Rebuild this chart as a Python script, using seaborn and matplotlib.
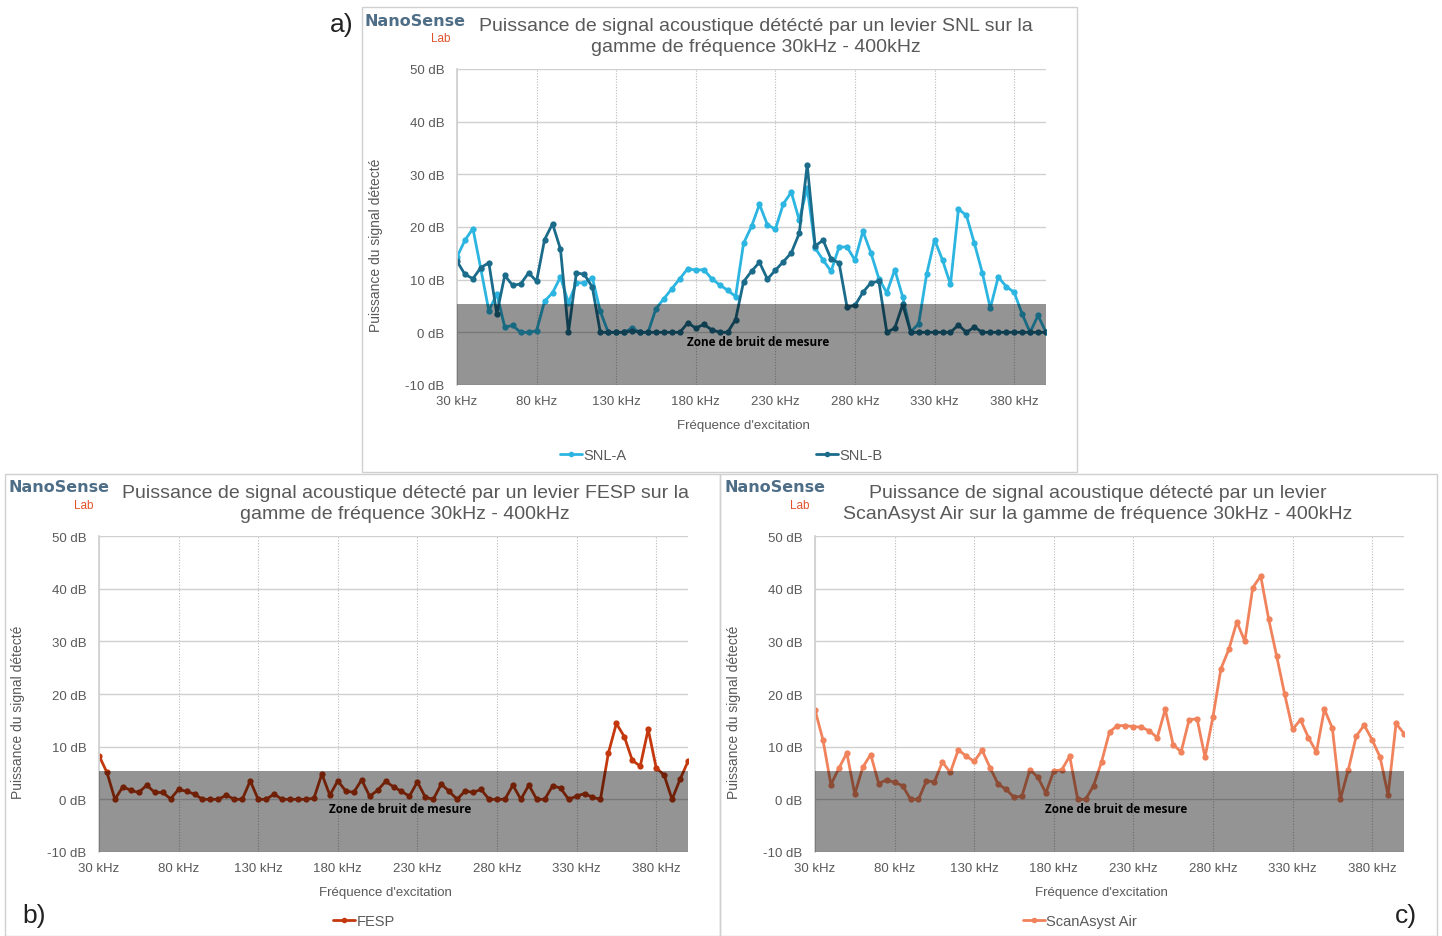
import matplotlib
matplotlib.use("Agg")
import numpy as np
import pandas as pd
import matplotlib.pyplot as plt
import seaborn as sns
from matplotlib.patches import Rectangle
from matplotlib.lines import Line2D

# categories: excitation frequency, kHz (step 5 kHz)
freq = list(range(30, 405, 5))

snl_a = [14.3, 17.5, 19.7, 12.0, 4.1, 7.3, 1.0, 1.3, 0, 0,
         0.3, 5.9, 7.5, 10.5, 5.6, 9.4, 9.4, 10.4, 4.0, 0,
         0, 0, 0.8, 0, 0, 4.5, 6.4, 8.3, 10.2, 12.1,
         11.8, 11.9, 10.2, 9.0, 8.0, 6.8, 16.9, 20.1, 24.3, 20.4,
         19.6, 24.4, 26.6, 21.3, 27.5, 16.0, 13.7, 11.6, 16.2, 16.2,
         13.7, 19.2, 15.1, 10.2, 7.5, 11.9, 6.7, 0.1, 1.6, 11.0,
         17.6, 13.7, 9.1, 23.4, 22.2, 16.9, 11.3, 4.6, 10.5, 8.7,
         7.6, 3.5, 0, 3.2, 0]

snl_b = [13.5, 11.0, 10.2, 12.3, 13.2, 3.5, 10.8, 8.9, 9.2, 11.3,
         9.7, 17.6, 20.6, 15.8, 0, 11.3, 11.0, 8.6, 0, 0,
         0, 0, 0.3, 0, 0, 0, 0, 0, 0, 1.8,
         0.8, 1.5, 0.5, 0, 0, 2.4, 9.6, 11.6, 13.3, 10.1,
         11.8, 13.4, 15.1, 18.8, 31.8, 16.4, 17.5, 13.9, 13.2, 4.8,
         5.1, 7.6, 9.4, 9.7, 0, 0.8, 5.3, 0, 0, 0,
         0, 0, 0, 1.4, 0, 1.0, 0, 0, 0, 0,
         0, 0, 0, 0, 0]

fesp = [8.3, 5.1, 0, 2.4, 1.7, 1.3, 2.7, 1.3, 1.3, 0.1,
        1.9, 1.5, 1.0, 0, 0, 0, 0.8, 0, 0, 3.5,
        0, 0, 1.0, 0, 0, 0, 0, 0.2, 4.8, 0.8,
        3.5, 1.6, 1.3, 3.7, 0.6, 1.7, 3.4, 2.4, 1.5, 0.6,
        3.3, 0.4, 0, 2.9, 1.5, 0, 1.6, 1.3, 1.9, 0,
        0, 0, 2.7, 0, 2.7, 0, 0, 2.6, 2.1, 0,
        0.6, 1.1, 0.4, 0, 8.8, 14.4, 11.9, 7.4, 6.3, 13.3,
        6.0, 4.6, 0, 3.8, 7.2]

scanasyst = [17.0, 11.3, 2.8, 5.9, 8.8, 1.0, 6.1, 8.5, 3.0, 3.7,
             3.2, 2.6, 0, 0, 3.5, 3.3, 7.1, 5.1, 9.4, 8.2,
             7.2, 9.3, 6.0, 2.9, 1.9, 0.4, 0.6, 5.6, 4.2, 1.2,
             5.4, 5.6, 8.2, 0, 0, 2.6, 7.1, 12.8, 14.0, 14.0,
             13.8, 13.7, 13.0, 11.7, 17.1, 10.4, 9.0, 15.1, 15.3, 8.0,
             15.7, 24.8, 28.5, 33.7, 30.0, 40.2, 42.4, 34.2, 27.2, 20.0,
             13.3, 15.1, 11.7, 9.0, 17.1, 13.5, 0, 5.6, 12.0, 14.1,
             11.3, 8.0, 0.8, 14.4, 12.5]

noise_top = 5.3
y_ticks = [-10, 0, 10, 20, 30, 40, 50]
x_ticks = freq[::10]

sns.set_theme(style="white")
plt.rcParams["font.family"] = ["Liberation Sans", "DejaVu Sans"]

GREY_TXT = "#595959"
GRID = "#D0D0D0"

fig = plt.figure(figsize=(14.42, 9.37), dpi=100)


def panel(rect, series, palette, title, title_xy, box, logo_xy, legend_xy, colsp):
    ax = fig.add_axes(rect)
    df = pd.DataFrame({"freq": freq * len(series),
                       "db": sum([v for v in series.values()], []),
                       "serie": sum([[k] * len(freq) for k in series], [])})
    sns.lineplot(data=df, x="freq", y="db", hue="serie", palette=palette,
                 marker="o", markersize=4.5, markeredgewidth=0, linewidth=2,
                 ax=ax, legend=False, zorder=2)
    ax.axhspan(-10, noise_top, color="black", alpha=0.42, lw=0, zorder=3)
    ax.text(0.512, -1.7, "Zone de bruit de mesure", transform=ax.get_yaxis_transform(),
            ha="center", va="center", fontsize=8.5, fontweight="bold",
            family=["Open Sans", "DejaVu Sans"], color="black", zorder=4)
    ax.set_xlim(30, 400)
    ax.set_ylim(-10, 50)
    ax.set_xticks(x_ticks)
    ax.set_xticklabels([f"{f} kHz" for f in x_ticks])
    ax.set_yticks(y_ticks)
    ax.set_yticklabels([f"{v} dB" for v in y_ticks])
    ax.tick_params(length=0, labelsize=9.5, labelcolor=GREY_TXT)
    ax.tick_params(axis="x", pad=7)
    ax.tick_params(axis="y", pad=9)
    ax.yaxis.grid(True, color=GRID, lw=1, ls="-")
    ax.xaxis.grid(True, color="#BBBBBB", lw=0.8, ls=(0, (1, 1.5)))
    ax.set_axisbelow(True)
    for s in ["top", "right", "bottom"]:
        ax.spines[s].set_visible(False)
    ax.spines["left"].set_color(GRID)
    ax.set_xlabel("Fréquence d'excitation", fontsize=9.5, color=GREY_TXT)
    ax.set_ylabel("Puissance du signal détecté", fontsize=10, color=GREY_TXT)
    ax.xaxis.set_label_coords(0.487, -0.108)
    ax.yaxis.set_label_coords(-0.125, 0.445)

    fig.text(title_xy[0], title_xy[1], title, ha="center", va="center",
             fontsize=14, color=GREY_TXT, linespacing=1.35)
    fig.patches.append(Rectangle(box[:2], box[2], box[3], transform=fig.transFigure,
                                 fill=False, edgecolor="#D0D0D0", lw=1))
    # logo
    fig.text(logo_xy[0], logo_xy[1], "NanoSense", fontsize=11.5, fontweight="bold",
             color="#4E6E87", family=["Liberation Sans Narrow", "DejaVu Sans"],
             ha="left", va="center")
    fig.text(logo_xy[0] + 0.046, logo_xy[1] - 0.019, "Lab", fontsize=8.5,
             color="#E0522A", ha="left", va="center")

    handles = [Line2D([], [], color=palette[k], marker="o", markersize=4,
                      markeredgewidth=0, lw=2) for k in series]
    fig.legend(handles, list(series), loc="center", bbox_to_anchor=legend_xy,
               ncol=len(series), frameon=False, fontsize=10.5, handlelength=1.5,
               handletextpad=0.1, columnspacing=colsp, labelcolor=GREY_TXT)
    return ax


W, H = 1442, 937


def fx(px):
    return px / W


def fy(py):
    return 1 - py / H


panel([fx(457), fy(386), fx(589), 316 / H],
      {"SNL-A": snl_a, "SNL-B": snl_b},
      {"SNL-A": "#2BB5E0", "SNL-B": "#1B6B8A"},
      "Puissance de signal acoustique détécté par un levier SNL sur la\ngamme de fréquence 30kHz - 400kHz",
      (fx(756), fy(37)), (fx(362), fy(473), fx(715), 465 / H),
      (fx(365), fy(21)), (fx(721), fy(456)), 13)

panel([fx(99), fy(853), fx(589), 316 / H],
      {"FESP": fesp},
      {"FESP": "#C4380E"},
      "Puissance de signal acoustique détecté par un levier FESP sur la\ngamme de fréquence 30kHz - 400kHz",
      (fx(405), fy(504)), (fx(5), fy(937), fx(715), 462 / H),
      (fx(8), fy(488)), (fx(364), fy(922)), 2)

panel([fx(815), fy(853), fx(589), 316 / H],
      {"ScanAsyst Air": scanasyst},
      {"ScanAsyst Air": "#F0825C"},
      "Puissance de signal acoustique détecté par un levier\nScanAsyst Air sur la gamme de fréquence 30kHz - 400kHz",
      (fx(1098), fy(504)), (fx(720), fy(937), fx(717), 462 / H),
      (fx(724), fy(488)), (fx(1080), fy(922)), 2)

fig.text(fx(342), fy(25), "a)", fontsize=19, ha="center", va="center", color="#222222")
fig.text(fx(34), fy(916), "b)", fontsize=19, ha="center", va="center", color="#222222")
fig.text(fx(1406), fy(916), "c)", fontsize=19, ha="center", va="center", color="#222222")

fig.savefig("out.png", dpi=100)
